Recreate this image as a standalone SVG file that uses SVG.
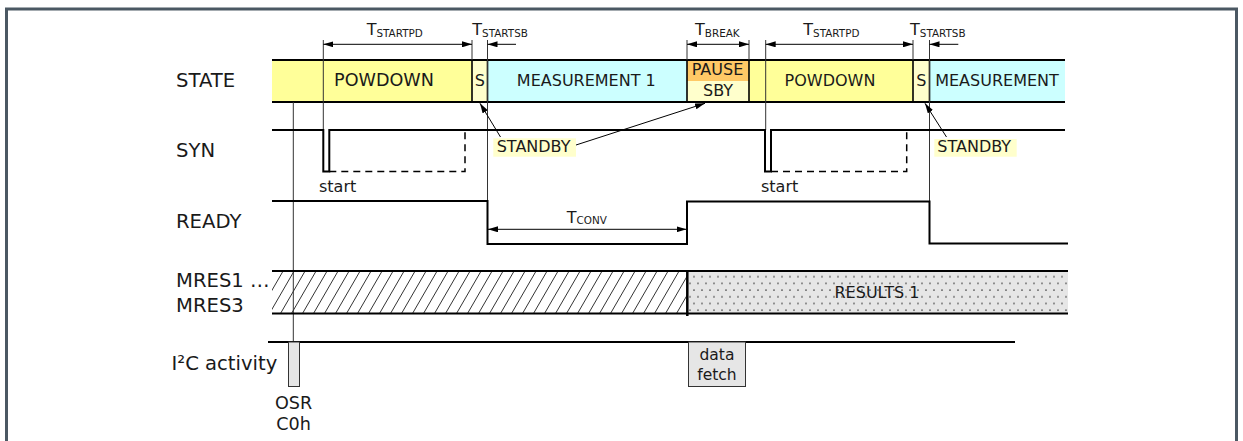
<svg xmlns="http://www.w3.org/2000/svg" width="1243" height="441" viewBox="0 0 1243 441">
<style>
text{font-family:"DejaVu Sans","Verdana","Liberation Sans",sans-serif;fill:#1a1a1a}
.lbl{font-size:19.6px}
.st{font-size:16px}
.tm{font-size:16px}
.sub{font-size:10.4px}
.sig{fill:none;stroke:#000;stroke-width:2}
.thin{fill:none;stroke:#333;stroke-width:1}
.dim{fill:none;stroke:#000;stroke-width:1;marker-end:url(#ah)}
.dim2{fill:none;stroke:#000;stroke-width:1;marker-start:url(#ah);marker-end:url(#ah)}
.div{stroke:#000;stroke-width:1.6}
.dash{fill:none;stroke:#000;stroke-width:1.5;stroke-dasharray:7 5}
.box{fill:#e6e6e6;stroke:#333;stroke-width:1}
</style>
<defs>
<marker id="ah" viewBox="0 0 10 6" refX="10" refY="3" markerWidth="10" markerHeight="6" orient="auto-start-reverse" markerUnits="userSpaceOnUse"><path d="M0,0 L10,3 L0,6 z" fill="#000"/></marker>
<pattern id="hatch" patternUnits="userSpaceOnUse" width="11" height="19"><path d="M-11,19 L0,0 M0,19 L11,0 M11,19 L22,0" stroke="#333" stroke-width="1"/></pattern>
<pattern id="dots" patternUnits="userSpaceOnUse" width="8" height="13.4"><rect width="8" height="13.4" fill="#e6e6e6"/><circle cx="2" cy="2" r="0.8" fill="#444"/><circle cx="6" cy="8.7" r="0.8" fill="#444"/></pattern>
</defs>
<rect id="frame" x="6.5" y="9" width="1230" height="450" fill="#fff" stroke="#4b5863" stroke-width="3"/>

<g id="row-labels">
<text class="lbl" x="176" y="86.5">STATE</text>
<text class="lbl" x="176" y="156.5">SYN</text>
<text class="lbl" x="176" y="228">READY</text>
<text class="lbl" x="176" y="286.5">MRES1 …</text>
<text class="lbl" x="176" y="311.5">MRES3</text>
<text class="lbl" x="171.5" y="370">I²C activity</text>
</g>

<g id="state">
<rect id="st-powdown1" x="272" y="60" width="200" height="42" fill="#ffff99"/>
<rect id="st-s1" x="472" y="60" width="15.5" height="42" fill="#ffffcc"/>
<rect id="st-meas1" x="487.5" y="60" width="199.5" height="42" fill="#ccffff"/>
<rect id="st-pause" x="687" y="60" width="62" height="21" fill="#ffc966"/>
<rect id="st-sby" x="687" y="81" width="62" height="21" fill="#ffffcc"/>
<rect id="st-powdown2" x="749" y="60" width="164" height="42" fill="#ffff99"/>
<rect id="st-s2" x="913" y="60" width="16.5" height="42" fill="#ffffcc"/>
<rect id="st-meas2" x="929.5" y="60" width="135.5" height="42" fill="#ccffff"/>
<line class="div" x1="472" y1="60" x2="472" y2="102"/>
<line class="div" x1="487.5" y1="60" x2="487.5" y2="102"/>
<line class="div" x1="687" y1="60" x2="687" y2="102"/>
<line class="div" x1="749" y1="60" x2="749" y2="102"/>
<line class="div" x1="913" y1="60" x2="913" y2="102"/>
<line class="div" x1="929.5" y1="60" x2="929.5" y2="102"/>
<line class="sig" x1="272" y1="60" x2="1065" y2="60"/>
<line class="sig" x1="272" y1="102" x2="1065" y2="102"/>
<text class="st" x="384" y="86" text-anchor="middle" style="font-size:17.6px">POWDOWN</text>
<text class="st" x="479.8" y="86" text-anchor="middle">S</text>
<text class="st" x="586.3" y="86" text-anchor="middle">MEASUREMENT 1</text>
<text class="st" x="717.5" y="75" text-anchor="middle">PAUSE</text>
<text class="st" x="718" y="96" text-anchor="middle">SBY</text>
<text class="st" x="830" y="86" text-anchor="middle">POWDOWN</text>
<text class="st" x="921.3" y="86" text-anchor="middle">S</text>
<text class="st" x="997" y="86" text-anchor="middle">MEASUREMENT</text>
</g>

<g id="guides">
<line class="thin" x1="293.3" y1="102" x2="293.3" y2="342"/>
<line class="thin" x1="323.3" y1="40" x2="323.3" y2="130"/>
<line class="thin" x1="472" y1="40" x2="472" y2="60"/>
<line class="thin" x1="487.5" y1="40" x2="487.5" y2="201"/>
<line class="thin" x1="687" y1="40" x2="687" y2="60"/>
<line class="thin" x1="749" y1="40" x2="749" y2="60"/>
<line class="thin" x1="765.7" y1="40" x2="765.7" y2="130"/>
<line class="thin" x1="913" y1="40" x2="913" y2="60"/>
<line class="thin" x1="929.5" y1="40" x2="929.5" y2="201" stroke="#666"/>
</g>

<g id="syn">
<path class="sig" d="M272,130 H323.3 V171.5 H329.3 V130 H765 V171.5 H771 V130 H1065"/>
<path class="dash" d="M329.3,171.5 H465 V131"/>
<path class="dash" d="M771,171.5 H906.7 V131"/>
<text class="st" x="319" y="192">start</text>
<text class="st" x="761" y="192">start</text>
</g>

<g id="ready">
<path class="sig" d="M272,201 H487.5 V244 H687 V201.5 H929.5 V243.5 H1068"/>
</g>

<g id="mres">
<rect x="272" y="271" width="415" height="42.5" fill="url(#hatch)"/>
<rect x="687" y="271" width="381" height="42.5" fill="url(#dots)"/>
<line class="sig" x1="272" y1="271" x2="1068" y2="271"/>
<line class="sig" x1="272" y1="313.5" x2="1068" y2="313.5"/>
<line x1="687.3" y1="271" x2="687.3" y2="316" stroke="#000" stroke-width="2.5"/>
<text class="st" x="877" y="298" text-anchor="middle">RESULTS 1</text>
</g>

<g id="i2c">
<line class="sig" x1="268" y1="342" x2="1015" y2="342"/>
<rect id="osr" class="box" x="288.5" y="342" width="11" height="44.5"/>
<text x="293.5" y="409" text-anchor="middle" style="font-size:17.6px">OSR</text>
<text x="293.5" y="430" text-anchor="middle" style="font-size:17.6px">C0h</text>
<rect id="datafetch" class="box" x="688.5" y="342" width="57" height="44.5"/>
<text x="717" y="360" text-anchor="middle" style="font-size:15.5px">data</text>
<text x="717" y="380" text-anchor="middle" style="font-size:15.5px">fetch</text>
</g>

<g id="standby1">
<rect x="493.3" y="138.3" width="82.7" height="18.4" fill="#ffffcc"/>
<text class="st" x="496.7" y="152">STANDBY</text>
</g>
<g id="standby2">
<rect x="934.3" y="139" width="82.4" height="17.7" fill="#ffffcc"/>
<text class="st" x="937.3" y="152">STANDBY</text>
</g>

<g id="timing-labels">
<text class="tm" x="366.7" y="35">T<tspan class="sub" y="36.7">STARTPD</tspan></text>
<text class="tm" x="472.3" y="35">T<tspan class="sub" y="36.7">STARTSB</tspan></text>
<text class="tm" x="695" y="35">T<tspan class="sub" y="36.7">BREAK</tspan></text>
<text class="tm" x="803.3" y="35">T<tspan class="sub" y="36.7">STARTPD</tspan></text>
<text class="tm" x="910" y="35">T<tspan class="sub" y="36.7">STARTSB</tspan></text>
<text class="tm" x="566.7" y="222.7">T<tspan class="sub" y="223.8">CONV</tspan></text>
</g>

<g id="connectors">
<line class="dim2" x1="323.3" y1="44.3" x2="472" y2="44.3"/>
<line class="dim" x1="516" y1="44.3" x2="487.5" y2="44.3"/>
<line class="dim2" x1="687" y1="44.3" x2="749" y2="44.3"/>
<line class="dim2" x1="765.7" y1="44.3" x2="913" y2="44.3"/>
<line class="dim" x1="958.3" y1="44.3" x2="929.5" y2="44.3"/>
<line class="dim2" x1="488" y1="229.3" x2="686.5" y2="229.3"/>
<line class="dim" x1="500.5" y1="137" x2="480" y2="103.3"/>
<line class="dim" x1="576" y1="145" x2="705" y2="103.3"/>
<line class="dim" x1="946.5" y1="137" x2="925" y2="103.3"/>
</g>
</svg>
